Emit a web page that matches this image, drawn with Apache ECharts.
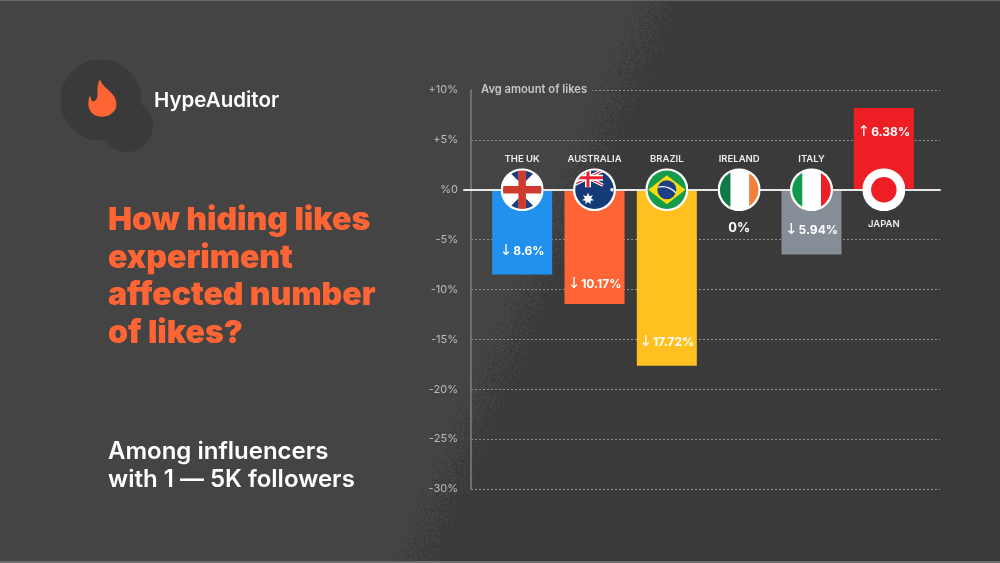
<!DOCTYPE html>
<html>
<head>
<meta charset="utf-8">
<style>html,body{margin:0;padding:0;background:#444}#c{width:1000px;height:563px}</style>
<script src="https://cdn.jsdelivr.net/npm/echarts@6/dist/echarts.min.js"></script>
</head>
<body>
<div id="c"></div>
<script>
const categories = ['THE UK', 'AUSTRALIA', 'BRAZIL', 'IRELAND', 'ITALY', 'JAPAN'];
// Bar lengths as drawn in the picture (they differ from the printed figures)
const barValues = [-8.5, -11.45, -17.65, 0, -6.5, 8.2];
const valueArrows = ['↓', '↓', '↓', '', '↓', '↑'];
const valueTexts = ['8.6%', '10.17%', '17.72%', '0%', '5.94%', '6.38%'];
const barColors = ['#2291ee', '#ff6534', '#ffc020', '#444444', '#858e96', '#ee1f24'];
const tickValues = [10, 5, 0, -5, -10, -15, -20, -25, -30];
const tickLabels = ['+10%', '+5%', '%0', '-5%', '-10%', '-15%', '-20%', '-25%', '-30%'];

const wrapFlag = (id, body) => 'image://data:image/svg+xml;charset=utf-8,' + encodeURIComponent(
  '<svg xmlns="http://www.w3.org/2000/svg" width="172" height="172" viewBox="0 0 86 86">' +
  '<defs><clipPath id="' + id + '"><circle cx="43" cy="43" r="38.5"/></clipPath></defs>' +
  '<circle cx="43" cy="43" r="43" fill="#fff"/><g clip-path="url(#' + id + ')">' + body + '</g></svg>');

const flags = [
  wrapFlag('uk', '<rect width="86" height="86" fill="#fff"/>' +
    '<path d="M14 4L36 4L36 26ZM72 4L50 4L50 26ZM14 82L36 82L36 60ZM72 82L50 82L50 60Z" fill="#1b3f7d"/>' +
    '<rect x="35.5" y="0" width="15" height="86" fill="#cf3a2f"/><rect x="0" y="35.5" width="86" height="15" fill="#cf3a2f"/>'),
  wrapFlag('au', '<rect width="86" height="86" fill="#143b78"/>' +
    '<path d="M0 4L60 34M60 4L0 34" stroke="#fff" stroke-width="7"/>' +
    '<path d="M0 4L60 34M60 4L0 34" stroke="#e8232e" stroke-width="2.5"/>' +
    '<rect x="0" y="13" width="60" height="12" fill="#fff"/><rect x="24" y="0" width="12" height="38" fill="#fff"/>' +
    '<rect x="0" y="16" width="60" height="6" fill="#e8232e"/><rect x="27" y="0" width="6" height="38" fill="#e8232e"/>' +
    '<path d="M30 49l3 7 7-2-4 6 6 4-7 1 0 7-5-5-5 5 0-7-7-1 6-4-4-6 7 2z" fill="#fff"/>' +
    '<circle cx="78" cy="43" r="3.5" fill="#fff"/>'),
  wrapFlag('br', '<rect width="86" height="86" fill="#169b4b"/>' +
    '<path d="M43 14L80 43L43 72L6 43Z" fill="#f8dc0f"/><circle cx="43" cy="43" r="19" fill="#1d3f87"/>' +
    '<path d="M25 38C37 35 51 39 61 49" stroke="#fff" stroke-width="2.5" fill="none"/>'),
  wrapFlag('ie', '<rect width="26" height="86" fill="#0f7a47"/><rect x="26" width="37" height="86" fill="#fff"/>' +
    '<rect x="63" width="23" height="86" fill="#f57f3a"/>'),
  wrapFlag('it', '<rect width="25" height="86" fill="#109a4c"/><rect x="25" width="37" height="86" fill="#fff"/>' +
    '<rect x="62" width="24" height="86" fill="#ee1f24"/>'),
  wrapFlag('jp', '<rect width="86" height="86" fill="#fff"/><circle cx="43" cy="43" r="25.5" fill="#ee1f24"/>')
];

echarts.graphic.registerShape('flame', echarts.graphic.extendShape({
  buildPath(ctx) {
    ctx.moveTo(12, 0);
    ctx.bezierCurveTo(14, 8, 22, 11, 26, 17);
    ctx.bezierCurveTo(30, 24, 29, 31, 23, 35);
    ctx.bezierCurveTo(18, 38.5, 10, 38.5, 5, 35);
    ctx.bezierCurveTo(0, 31, -1, 24, 2, 16);
    ctx.bezierCurveTo(3, 20, 3, 22, 5, 22.5);
    ctx.bezierCurveTo(9, 22, 10, 17, 9.5, 13);
    ctx.bezierCurveTo(9, 8, 10, 4, 12, 0);
    ctx.closePath();
  }
}));

// Backdrop: lighter left, darker right, with a stippled diagonal seam
function makeBackdrop() {
  const cv = document.createElement('canvas');
  cv.width = 1000; cv.height = 563;
  const g = cv.getContext('2d');
  const img = g.createImageData(1000, 563);
  const hash = (x, y) => {
    let h = (Math.imul(x, 374761393) + Math.imul(y, 668265263)) | 0;
    h = Math.imul(h ^ (h >>> 13), 1274126177);
    return ((h ^ (h >>> 16)) >>> 0) / 4294967296;
  };
  for (let y = 0; y < 563; y++) {
    for (let x = 0; x < 1000; x++) {
      const d = (x - 540) * 0.916 + (y - 280) * 0.40;
      const p = Math.min(1, Math.max(0, (d + 34) / 62));
      const dark = hash(x, y) < p * p * (3 - 2 * p);
      const v = dark ? 0x3a : 0x44;
      const k = (y * 1000 + x) * 4;
      img.data[k] = img.data[k + 1] = img.data[k + 2] = v;
      img.data[k + 3] = 255;
    }
  }
  g.putImageData(img, 0, 0);
  return cv;
}

const chart = echarts.init(document.getElementById('c'), null, { renderer: 'canvas', width: 1000, height: 563 });
const FONT = 'Inter';
const labelBelow = categories.map(c => c === 'JAPAN');
const labelInset = [16, 12, 16, 11, 17, 17];

chart.setOption({
  animation: false,
  backgroundColor: '#444444',
  title: [
    {
      text: 'How hiding likes\nexperiment\naffected number\nof likes?',
      left: 108, top: 202,
      textStyle: { color: '#ff6534', fontFamily: FONT, fontWeight: 900, fontSize: 32, lineHeight: 37.4 },
      padding: 0
    },
    {
      text: 'Among influencers\nwith 1 — 5K followers',
      left: 108, top: 438,
      textStyle: { color: '#ffffff', fontFamily: FONT, fontWeight: 600, fontSize: 24, lineHeight: 28 },
      padding: 0
    },
    {
      text: 'Avg amount of likes',
      left: 472, top: 83,
      backgroundColor: '#444444',
      padding: [0, 5, 0, 9],
      textStyle: { color: '#c3c6c8', fontFamily: FONT, fontWeight: 600, fontSize: 11.2, lineHeight: 14 }
    }
  ],
  grid: [
    { left: 471, width: 469, top: 90, height: 399 },
    { left: 486, width: 434, top: 90, height: 399 },
    { left: 464, width: 476, top: 90, height: 399 }
  ],
  xAxis: [
    {
      gridIndex: 0, type: 'category', data: categories,
      axisLine: { show: false }, axisTick: { show: false }, axisLabel: { show: false }
    },
    {
      gridIndex: 1, type: 'category', data: categories,
      axisLine: { show: false }, axisTick: { show: false }, axisLabel: { show: false }
    },
    {
      gridIndex: 2, type: 'category', data: categories, z: 3,
      axisLine: { onZero: true, lineStyle: { color: '#e8e8e8', width: 2 } },
      axisTick: { show: false }, axisLabel: { show: false }
    }
  ],
  yAxis: [
    {
      gridIndex: 0, type: 'value', min: -30, max: 10, interval: 5,
      axisLine: { show: true, onZero: false, lineStyle: { color: '#7c8083', width: 1.5 } },
      axisTick: { show: false },
      axisLabel: {
        margin: 13, color: '#b9bcbe', fontFamily: FONT, fontSize: 11, padding: [2, 0, 0, 0],
        formatter: v => tickLabels[tickValues.indexOf(v)]
      },
      splitLine: { show: true, lineStyle: { color: '#8e8e8e', width: 1, type: [2, 2] } }
    },
    {
      gridIndex: 1, type: 'value', min: -30, max: 10, interval: 5,
      axisLine: { show: false }, axisTick: { show: false }, axisLabel: { show: false }, splitLine: { show: false }
    },
    {
      gridIndex: 2, type: 'value', min: -30, max: 10, interval: 5,
      axisLine: { show: false }, axisTick: { show: false }, axisLabel: { show: false }, splitLine: { show: false }
    }
  ],
  series: [
    {
      type: 'bar', xAxisIndex: 1, yAxisIndex: 1, barWidth: 60, z: 2,
      data: barValues.map((v, i) => ({
        value: v,
        itemStyle: { color: v === 0 ? 'transparent' : barColors[i] },
        label: {
          show: true,
          formatter: valueArrows[i] ? '{a|' + valueArrows[i] + '}{b|' + valueTexts[i] + '}' : '{c|' + valueTexts[i] + '}',
          position: v === 0 ? 'bottom' : (v > 0 ? 'insideTop' : 'insideBottom'),
          distance: v === 0 ? 32 : labelInset[i],
          rich: {
            a: { color: '#ffffff', fontFamily: 'DejaVu Sans', fontWeight: 400, fontSize: 15, padding: [0, 1, 0, 0] },
            b: { color: '#ffffff', fontFamily: FONT, fontWeight: 700, fontSize: 12 },
            c: { color: '#ffffff', fontFamily: FONT, fontWeight: 700, fontSize: 13 }
          }
        }
      }))
    },
    {
      type: 'scatter', xAxisIndex: 1, yAxisIndex: 1, z: 5,
      itemStyle: { opacity: 1 },
      data: categories.map((c, i) => ({
        value: [c, 0],
        symbol: flags[i],
        symbolSize: 43,
        label: {
          show: true, formatter: c,
          position: labelBelow[i] ? 'bottom' : 'top',
          distance: labelBelow[i] ? 8 : 4,
          color: '#eceded', fontFamily: FONT, fontWeight: 600, fontSize: 9.5, letterSpacing: 0.5
        }
      }))
    }
  ],
  graphic: [
    { type: 'image', silent: true, z: -10, style: { image: makeBackdrop(), x: 0, y: 0, width: 1000, height: 563 } },
    { type: 'rect', silent: true, shape: { x: 0, y: 0, width: 1000, height: 1 }, style: { fill: '#666666' } },
    { type: 'rect', silent: true, shape: { x: 0, y: 561, width: 1000, height: 2 }, style: { fill: '#6e6e6e' } },
    { type: 'circle', silent: true, shape: { cx: 127, cy: 126, r: 26 }, style: { fill: '#3a3a3a' } },
    { type: 'circle', silent: true, shape: { cx: 101, cy: 100, r: 40.5 }, style: { fill: '#3a3a3a' } },
    { type: 'flame', silent: true, x: 88, y: 79, shape: {}, style: { fill: '#ff6534' } },
    {
      type: 'text', silent: true, x: 154, y: 101,
      style: { text: 'HypeAuditor', fill: '#ffffff', font: '600 20.5px Inter', verticalAlign: 'middle' }
    }
  ]
});
</script>
</body>
</html>
